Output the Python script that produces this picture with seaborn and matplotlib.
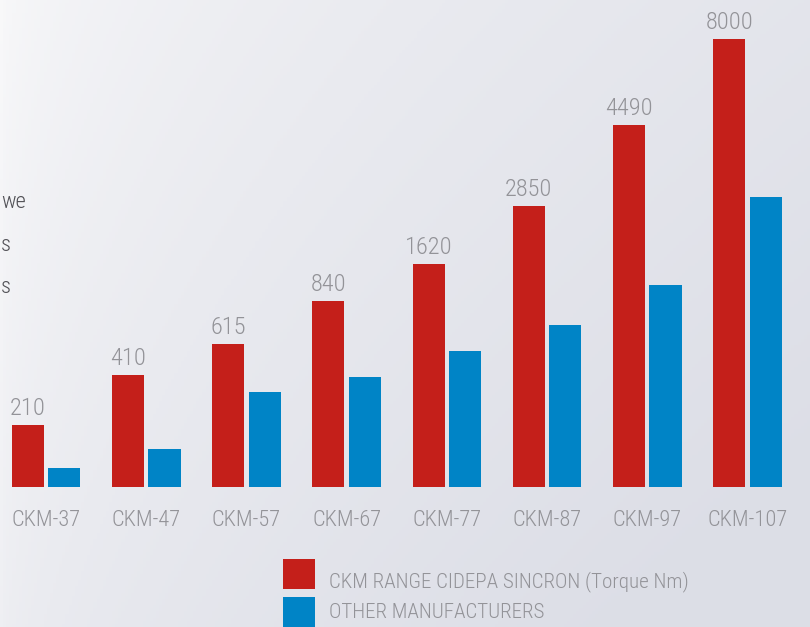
import numpy as np
import pandas as pd
import matplotlib
matplotlib.use("Agg")
import matplotlib.pyplot as plt
import matplotlib.font_manager as fm
from matplotlib.font_manager import FontProperties
from matplotlib.patches import Rectangle
import seaborn as sns

# ---- data ----
models = ["CKM-37", "CKM-47", "CKM-57", "CKM-67", "CKM-77", "CKM-87", "CKM-97", "CKM-107"]
ckm_torque_labels = [210, 410, 615, 840, 1620, 2850, 4490, 8000]
# visual bar heights (the chart has no axis; heights are not proportional to the labels)
ckm_heights = [62, 112, 143, 186, 223, 281, 362, 448]
other_heights = [19, 38, 95, 110, 136, 162, 202, 290]
series_names = ["CKM RANGE CIDEPA SINCRON (Torque Nm)", "OTHER MANUFACTURERS"]
side_fragments = ["we", "s", "s"]

RED = "#c41f1a"
BLUE = "#0084c6"
GRAY_TXT = "#939398"

sns.set_theme(style="white")

# ---- pick a light / condensed installed font if there is one ----
def _is_narrow(f):
    s = f.stretch
    if isinstance(s, str):
        narrow_s = s in ("ultra-condensed", "extra-condensed", "condensed", "semi-condensed")
    else:
        narrow_s = s < 500
    return narrow_s or ("Narrow" in f.name) or ("Condensed" in f.name)

def _wnum(w):
    if isinstance(w, str):
        return {"ultralight": 200, "light": 300, "normal": 400, "regular": 400,
                "book": 400, "medium": 500, "semibold": 600, "bold": 700}.get(w, 400)
    return w

families_ok = ("Roboto", "Noto Sans", "Liberation Sans", "Open Sans", "Lato", "Inter", "DejaVu Sans")
best = None
best_score = None
for f in fm.fontManager.ttflist:
    if f.style != "normal":
        continue
    if not any(f.name.startswith(fam) for fam in families_ok):
        continue
    if "Mono" in f.name or "CJK" in f.name or "Serif" in f.name:
        continue
    sc = (0 if _is_narrow(f) else 1, abs(_wnum(f.weight) - 300),
          0 if f.name.startswith("Roboto") else 1)
    if best_score is None or sc < best_score:
        best_score = sc
        best = f
if best is not None:
    FP = FontProperties(fname=best.fname)
else:
    FP = FontProperties(family="DejaVu Sans")

W, H = 810, 627
fig = plt.figure(figsize=(W / 100, H / 100), dpi=100)

def fit_size(s, target_px, cap=18.5):
    t = fig.text(0, 0, s, fontproperties=FP, fontsize=20)
    fig.canvas.draw()
    w = t.get_window_extent().width
    t.remove()
    return min(cap, 20 * target_px / w * 1.03)

size_legend = fit_size(series_names[0], 350)
size_cat = fit_size(models[-1], 78)
size_val = fit_size("8000", 46)

# background gradient
bg = fig.add_axes([0, 0, 1, 1], zorder=-2)
yy, xx = np.mgrid[0:1:200j, 0:1:260j]
t = np.clip(0.75 * np.sqrt(xx) + 0.35 * yy, 0, 1)
white = np.array([0.975, 0.975, 0.98])
gray = np.array([0.865, 0.872, 0.905])
img = white[None, None, :] * (1 - t[..., None]) + gray[None, None, :] * t[..., None]
bg.imshow(img, aspect="auto", extent=[0, 1, 0, 1], origin="upper")
bg.set_axis_off()

ax = fig.add_axes([0, 0, 1, 1])
ax.patch.set_alpha(0)

df = pd.DataFrame({
    "model": models * 2,
    "series": [series_names[0]] * len(models) + [series_names[1]] * len(models),
    "height": ckm_heights + other_heights,
})
sns.barplot(data=df, x="model", y="height", hue="series", order=models,
            hue_order=series_names, palette=[RED, BLUE], width=0.73, gap=0.12,
            saturation=1, legend=False, linewidth=0, edgecolor="none", ax=ax)

ax.set_xlim(-0.46, 7.624)
ax.set_ylim(-140, 487)
ax.set_axis_off()

# value labels over red bars
for i, (h, lab) in enumerate(zip(ckm_heights, ckm_torque_labels)):
    ax.text(i - 0.1825, h + 10, str(lab), ha="center", va="baseline",
            fontproperties=FP, fontsize=size_val, color=GRAY_TXT)

# category labels
for i, m in enumerate(models):
    ax.text(i, -39, m, ha="center", va="baseline",
            fontproperties=FP, fontsize=size_cat, color=GRAY_TXT)

# legend (figure pixel coordinates)
def px(x, y):
    return x / W, 1 - y / H

for (name, col, rtop, base) in zip(series_names, [RED, BLUE], [559, 597], [587, 618]):
    x0, y1 = px(283, rtop + 30)
    fig.patches.append(Rectangle((x0, y1), 32 / W, 30 / H, transform=fig.transFigure,
                                 facecolor=col, edgecolor="none"))
    tx, ty = px(329, base)
    fig.text(tx, ty, name, ha="left", va="baseline",
             fontproperties=FP, fontsize=size_legend, color=GRAY_TXT)

# partially visible text fragments at the left edge
for txt, xl, yb in zip(side_fragments, [1, 1, 1], [208, 251, 293]):
    tx, ty = px(xl, yb)
    fig.text(tx, ty, txt, ha="left", va="baseline",
             fontproperties=FP, fontsize=size_cat, color="#505055")

fig.savefig("out.png", dpi=100)
